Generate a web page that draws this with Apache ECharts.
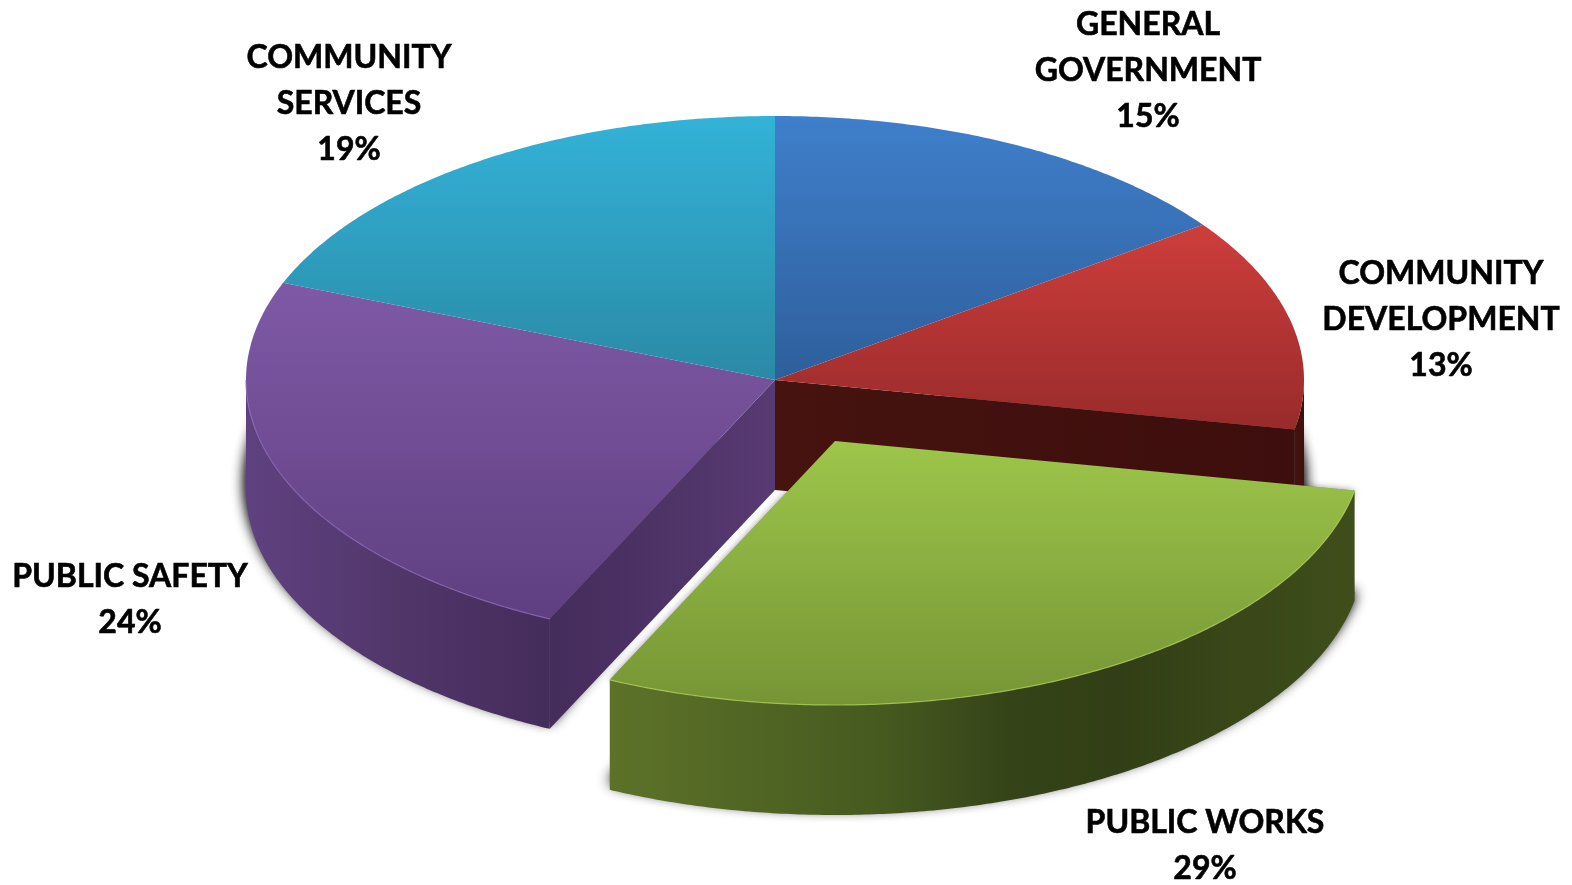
<!DOCTYPE html>
<html>
<head>
<meta charset="utf-8">
<title>Budget by department</title>
<style>
  html, body { margin: 0; padding: 0; background: #fff; }
  #chart { width: 1572px; height: 885px; }
</style>
<script src="https://cdn.jsdelivr.net/npm/echarts@6/dist/echarts.min.js"></script>
</head>
<body>
<div id="chart"></div>
<script>
// Share of the budget per department, clockwise from twelve o'clock.
const categories = ['GENERAL\nGOVERNMENT', 'COMMUNITY\nDEVELOPMENT', 'PUBLIC WORKS', 'PUBLIC SAFETY', 'COMMUNITY\nSERVICES'];
const shares = [15, 13, 29, 24, 19];
const pulledOut = 'PUBLIC WORKS';

// Disc geometry on the page.
const CX = 775, CY = 380, RX = 529, RY = 264, DEPTH = 110;
const PULL = { x: 60, y: 61 };
const STEP = Math.PI / 360;
const TAU = Math.PI * 2;

// Top face gradients (upper, lower) and where each runs vertically.
const faceFill = [
  { y0: 116, y1: 379, c0: '#3f7fcb', c1: '#2e5f9c' },
  { y0: 226, y1: 436, c0: '#cd3e3b', c1: '#972a2a' },
  { y0: 441, y1: 706, c0: '#9dc64a', c1: '#769435' },
  { y0: 281, y1: 618, c0: '#7f59a6', c1: '#5f3f80' },
  { y0: 116, y1: 379, c0: '#33b2d8', c1: '#2a8aa6' }
];
// Rounded wall shading, left to right over the x range of the wall.
const sideFill = [
  null,
  [[0, '#46120f'], [1, '#40100e']],
  [[0, '#5d7228'], [0.36, '#465a20'], [0.54, '#354318'], [0.68, '#323f16'], [1, '#3f4e1b']],
  [[0, '#5f4180'], [0.55, '#503568'], [1, '#442c5b']],
  null
];
const cutWallFill = {
  1: [[0, '#46130f'], [1, '#3d0e0d']],
  3: [[0, '#442c5b'], [1, '#573a72']]
};
const rimColor = { 2: '#aad058', 3: '#8f69bb' };
// Centre of each label block.
const labelCentre = [[1148, 70.5], [1441, 319.5], [1205, 845.5], [130, 599.5], [349, 103.5]];

const startShare = [];
shares.reduce((sum, v, i) => { startShare[i] = sum; return sum + v; }, 0);
const total = shares.reduce((a, b) => a + b, 0);
const hiddenIndex = categories.indexOf(pulledOut);

function rim(a, cx, cy, grow) {
  return [cx + (RX + grow) * Math.sin(a), cy - (RY + grow) * Math.cos(a)];
}
function arc(a0, a1, cx, cy, grow) {
  const pts = [];
  for (let a = a0; a < a1; a += STEP) pts.push(rim(a, cx, cy, grow || 0));
  pts.push(rim(a1, cx, cy, grow || 0));
  return pts;
}
function hGrad(stops, x0, x1) {
  return {
    type: 'linear', global: true, x: x0, y: 0, x2: x1, y2: 0,
    colorStops: stops.map(s => ({ offset: s[0], color: s[1] }))
  };
}
function vGrad(f) {
  return {
    type: 'linear', global: true, x: 0, y: f.y0, x2: 0, y2: f.y1,
    colorStops: [{ offset: 0, color: f.c0 }, { offset: 1, color: f.c1 }]
  };
}
function xRange(pts) {
  const xs = pts.map(p => p[0]);
  return [Math.min.apply(null, xs), Math.max.apply(null, xs)];
}

function renderSlice(params, api) {
  const i = params.dataIndex;
  const value = api.value(0), before = api.value(1);
  const a0 = before / total * TAU, a1 = (before + value) / total * TAU;
  const out = i === hiddenIndex;
  const cx = CX + (out ? PULL.x : 0), cy = CY + (out ? PULL.y : 0);
  const base = out ? 10 : 0;
  const children = [];

  // Soft contact shadow, painted twice so it holds its weight near the wall.
  // The apex sits higher on the disc so the gap beside the pulled slice stays light.
  if (out || sideFill[i]) {
    const shade = [[cx, cy + DEPTH - 34]].concat(arc(a0, a1, cx, cy + DEPTH - 8, 0));
    for (let pass = 0; pass < 2; pass++) {
      children.push({
        type: 'polygon', z2: out ? 0 : 1,
        shape: { points: shade },
        style: { fill: '#666', shadowBlur: 14, shadowColor: 'rgba(0,0,0,0.9)' }
      });
    }
  }
  if (out) {
    children.push({
      type: 'polygon', z2: 0,
      shape: { points: [[cx, cy]].concat(arc(a0, a1, cx, cy)) },
      style: { fill: '#999', shadowBlur: 7, shadowColor: 'rgba(0,0,0,0.4)' }
    });
  }

  // Outer rounded wall, the front half of the disc only.
  const s0 = Math.max(a0, Math.PI / 2), s1 = Math.min(a1, Math.PI * 1.5);
  if (s1 > s0 && sideFill[i]) {
    const upper = arc(s0, s1, cx, cy);
    const lower = arc(s0, s1, cx, cy + DEPTH).reverse();
    const pts = upper.concat(lower);
    const r = xRange(pts);
    children.push({
      type: 'polygon', z2: base + 2,
      shape: { points: pts },
      style: { fill: hGrad(sideFill[i], r[0], r[1]) }
    });
  }

  // Flat cut faces exposed by the slice that is pulled away.
  if (cutWallFill[i]) {
    const a = (i + 1) % shares.length === hiddenIndex ? a1 : a0;
    const e = rim(a, cx, cy, 0);
    const pts = [[cx, cy], e, [e[0], e[1] + DEPTH], [cx, cy + DEPTH]];
    const r = xRange(pts);
    children.push({
      type: 'polygon', z2: base + 3,
      shape: { points: pts },
      style: { fill: hGrad(cutWallFill[i], r[0], r[1]) }
    });
  }

  // Top face.
  children.push({
    type: 'polygon', z2: base + 4,
    shape: { points: [[cx, cy]].concat(arc(a0, a1, cx, cy)) },
    style: { fill: vGrad(faceFill[i]) }
  });

  // Thin highlight where the top face meets the wall.
  if (rimColor[i] && s1 > s0) {
    children.push({
      type: 'polyline', z2: base + 5,
      shape: { points: arc(s0, s1, cx, cy) },
      style: { fill: null, stroke: rimColor[i], lineWidth: 1.2, opacity: 0.8 }
    });
  }

  // Department name and share.
  children.push({
    type: 'text', z2: 30,
    x: labelCentre[i][0], y: labelCentre[i][1],
    style: {
      text: categories[i] + '\n' + value + '%',
      fill: '#000',
      stroke: '#000',
      lineWidth: 0.6,
      font: 'bold 32px Lato, "Noto Sans", sans-serif',
      lineHeight: 46,
      align: 'center',
      verticalAlign: 'middle'
    }
  });

  return { type: 'group', children: children };
}

const chart = echarts.init(document.getElementById('chart'), null, { renderer: 'canvas' });
chart.setOption({
  backgroundColor: '#ffffff',
  animation: false,
  series: [{
    type: 'custom',
    coordinateSystem: 'none',
    renderItem: renderSlice,
    data: shares.map((v, i) => [v, startShare[i]]),
    silent: true
  }]
});
</script>
</body>
</html>
